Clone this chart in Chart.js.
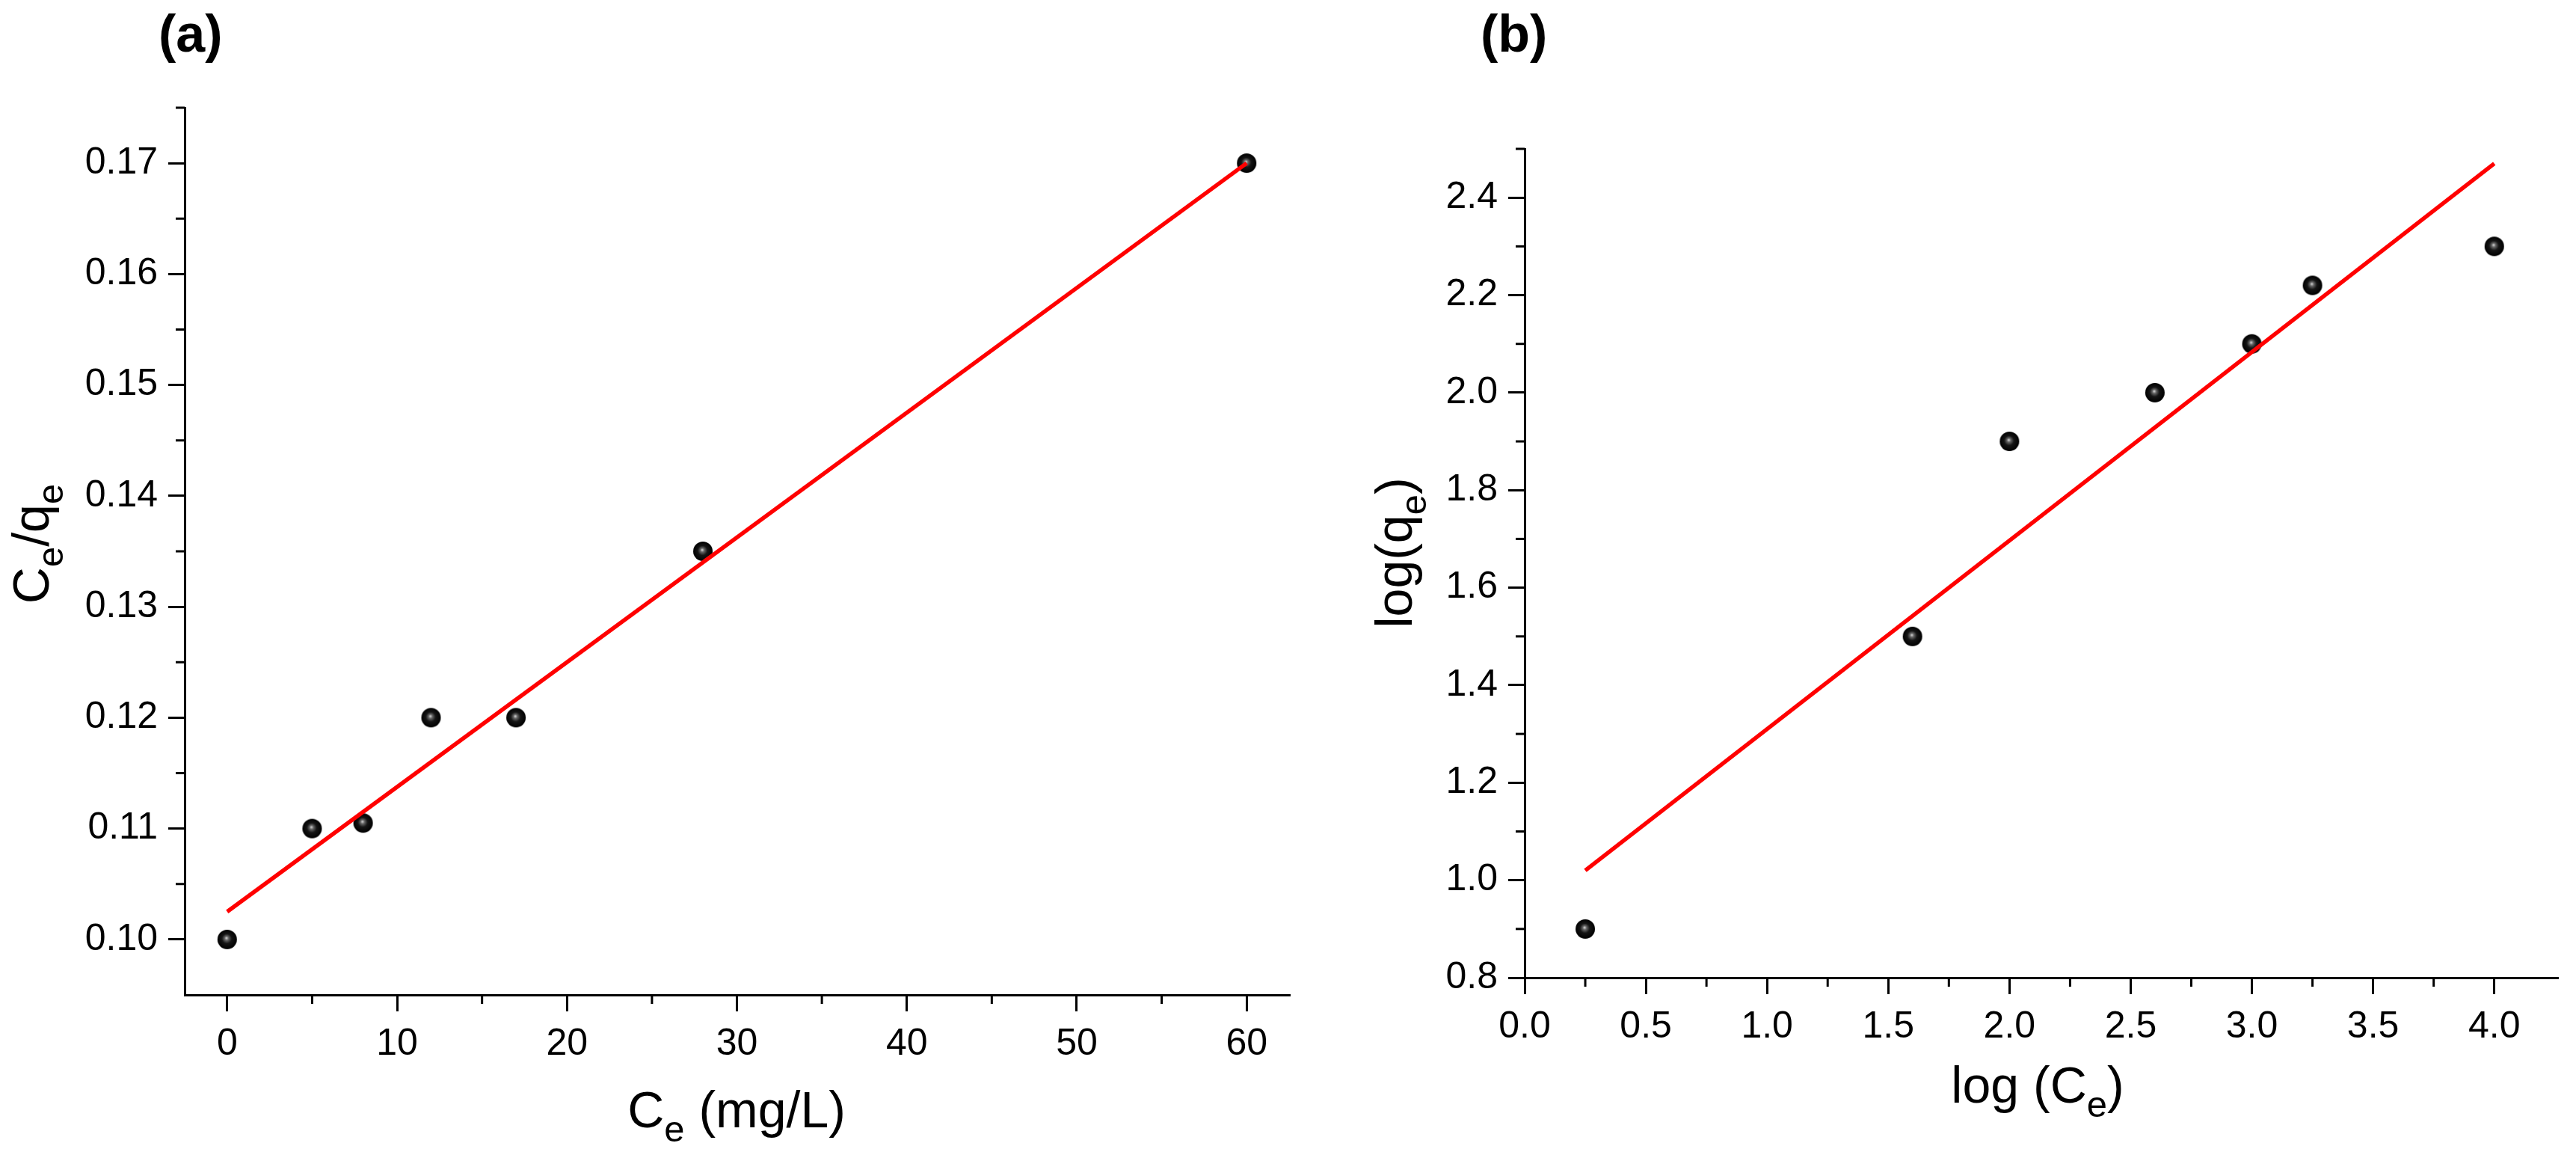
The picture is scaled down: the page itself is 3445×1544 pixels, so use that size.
<!DOCTYPE html>
<html>
<head>
<meta charset="utf-8">
<script src="https://cdn.jsdelivr.net/npm/chart.js@4.4.0/dist/chart.umd.min.js"></script>
<style>
  html, body { margin: 0; padding: 0; background: #fff; }
  #wrap { position: relative; width: 3445px; height: 1544px; background: #fff; overflow: hidden; }
  canvas { position: absolute; top: 0; }
</style>
</head>
<body>
<div id="wrap">
  <canvas id="chartA" width="1750" height="1544" style="left:0px"></canvas>
  <canvas id="chartB" width="1695" height="1544" style="left:1750px"></canvas>
</div>
<script>
// (a) Langmuir: Ce vs Ce/qe
const ceA = [0, 5, 8, 12, 17, 28, 60];
const ratioA = [0.100, 0.110, 0.1105, 0.120, 0.120, 0.135, 0.170];
const fitXA = [0, 60];
const fitYA = [0.1025, 0.1700];
const xTicksA = [0, 10, 20, 30, 40, 50, 60];
const xMinorA = [5, 15, 25, 35, 45, 55];
const yTicksA = [0.10, 0.11, 0.12, 0.13, 0.14, 0.15, 0.16, 0.17];
const yMinorA = [0.105, 0.115, 0.125, 0.135, 0.145, 0.155, 0.165, 0.175];

// (b) Freundlich: log Ce vs log qe
const logCeB = [0.25, 1.6, 2.0, 2.6, 3.0, 3.25, 4.0];
const logQeB = [0.90, 1.50, 1.90, 2.00, 2.10, 2.22, 2.30];
const fitXB = [0.25, 4.0];
const fitYB = [1.02, 2.47];
const xTicksB = [0.0, 0.5, 1.0, 1.5, 2.0, 2.5, 3.0, 3.5, 4.0];
const xMinorB = [0.25, 0.75, 1.25, 1.75, 2.25, 2.75, 3.25, 3.75];
const yTicksB = [0.8, 1.0, 1.2, 1.4, 1.6, 1.8, 2.0, 2.2, 2.4];
const yMinorB = [0.9, 1.1, 1.3, 1.5, 1.7, 1.9, 2.1, 2.3, 2.5];

const FONT = "'Liberation Sans', Arial, sans-serif";

function makeBall(r) {
  const c = document.createElement('canvas');
  c.width = c.height = r * 2 + 2;
  const g = c.getContext('2d');
  const m = r + 1;
  const grad = g.createRadialGradient(m - 1, m - 2, 0, m, m, r);
  grad.addColorStop(0, '#e0e0e0');
  grad.addColorStop(0.2, '#666');
  grad.addColorStop(0.5, '#151515');
  grad.addColorStop(1, '#000');
  g.fillStyle = grad;
  g.beginPath();
  g.arc(m, m, r, 0, Math.PI * 2);
  g.fill();
  return c;
}
const ball = makeBall(13);

function axis(ticks, min, max, fmt, fit) {
  return {
    type: 'linear', min: min, max: max,
    afterBuildTicks: s => { s.ticks = ticks.map(v => ({ value: v })); },
    afterFit: fit,
    border: { display: true, color: '#000', width: 3 },
    grid: { drawOnChartArea: false, drawTicks: true, tickLength: 22, lineWidth: 3, tickWidth: 3, tickColor: '#000', color: '#000' },
    ticks: { color: '#000', font: { family: FONT, size: 50 }, padding: 14, autoSkip: false, maxRotation: 0, minRotation: 0,
             callback: v => fmt(v) }
  };
}

// text runs with subscripts
function drawRuns(ctx, runs, size, cx, base, rotate) {
  const sub = size * 0.72, shift = size * 0.28;
  const fontOf = r => (r.sub ? sub : size) + 'px ' + FONT;
  let w = 0;
  runs.forEach(r => { ctx.font = fontOf(r); r.w = ctx.measureText(r.t).width; w += r.w; });
  ctx.save();
  ctx.translate(cx, base);
  if (rotate) ctx.rotate(-Math.PI / 2);
  ctx.fillStyle = '#000';
  ctx.textBaseline = 'alphabetic';
  ctx.textAlign = 'left';
  let x = -w / 2;
  runs.forEach(r => {
    ctx.font = fontOf(r);
    ctx.fillText(r.t, x, r.sub ? shift : 0);
    x += r.w;
  });
  ctx.restore();
}

const decor = {
  id: 'decor',
  afterDraw(chart) {
    const o = chart.options.plugins.decor;
    const ctx = chart.ctx;
    const xs = chart.scales.x, ys = chart.scales.y;
    ctx.save();
    ctx.strokeStyle = '#000';
    ctx.lineWidth = 3;
    o.xMinor.forEach(v => {
      const p = xs.getPixelForValue(v);
      ctx.beginPath(); ctx.moveTo(p, xs.top); ctx.lineTo(p, xs.top + 12); ctx.stroke();
    });
    o.yMinor.forEach(v => {
      const p = ys.getPixelForValue(v);
      ctx.beginPath(); ctx.moveTo(ys.right - 12, p); ctx.lineTo(ys.right, p); ctx.stroke();
    });
    ctx.restore();
    ctx.save();
    ctx.font = 'bold 70px ' + FONT;
    ctx.fillStyle = '#000';
    ctx.textBaseline = 'alphabetic';
    ctx.fillText(o.label, o.labelX, 69);
    ctx.restore();
    drawRuns(ctx, o.xTitle, 68, o.xTitleX, o.xTitleY, false);
    drawRuns(ctx, o.yTitle, 68, o.yTitleX, o.yTitleY, true);
  }
};

function buildChart(id, xs, ys, fx, fy, scales, pad, deco) {
  return new Chart(document.getElementById(id), {
    type: 'scatter',
    data: {
      datasets: [
        { data: fx.map((v, i) => ({ x: v, y: fy[i] })), showLine: true, borderColor: '#ff0000',
          borderWidth: 5.5, pointRadius: 0, fill: false, clip: false },
        { data: xs.map((v, i) => ({ x: v, y: ys[i] })), pointStyle: ball, pointRadius: 13,
          showLine: false, clip: false }
      ]
    },
    options: {
      responsive: false, animation: false, devicePixelRatio: 1,
      layout: { padding: pad },
      plugins: { legend: { display: false }, tooltip: { enabled: false }, decor: deco },
      scales: scales
    },
    plugins: [decor]
  });
}

buildChart('chartA', ceA, ratioA, fitXA, fitYA, {
  x: axis(xTicksA, -2.5, 62.5, v => String(v), s => { s.height = 214; }),
  y: axis(yTicksA, 0.095, 0.175, v => v.toFixed(2), s => { s.width = 247; })
}, { left: 0, top: 144, right: 26, bottom: 0 }, {
  xMinor: xMinorA, yMinor: yMinorA, label: '(a)', labelX: 212,
  xTitle: [{ t: 'C' }, { t: 'e', sub: true }, { t: ' (mg/L)' }], xTitleX: 985, xTitleY: 1507,
  yTitle: [{ t: 'C' }, { t: 'e', sub: true }, { t: '/q' }, { t: 'e', sub: true }], yTitleX: 65, yTitleY: 727
});

buildChart('chartB', logCeB, logQeB, fitXB, fitYB, {
  x: axis(xTicksB, 0, 4.26, v => v.toFixed(1), s => { s.height = 237; }),
  y: axis(yTicksB, 0.8, 2.5, v => v.toFixed(1), s => { s.width = 289; })
}, { left: 0, top: 199, right: 25, bottom: 0 }, {
  xMinor: xMinorB, yMinor: yMinorB, label: '(b)', labelX: 230,
  xTitle: [{ t: 'log (C' }, { t: 'e', sub: true }, { t: ')' }], xTitleX: 975, xTitleY: 1474,
  yTitle: [{ t: 'log(q' }, { t: 'e', sub: true }, { t: ')' }], yTitleX: 138, yTitleY: 739
});
</script>
</body>
</html>
